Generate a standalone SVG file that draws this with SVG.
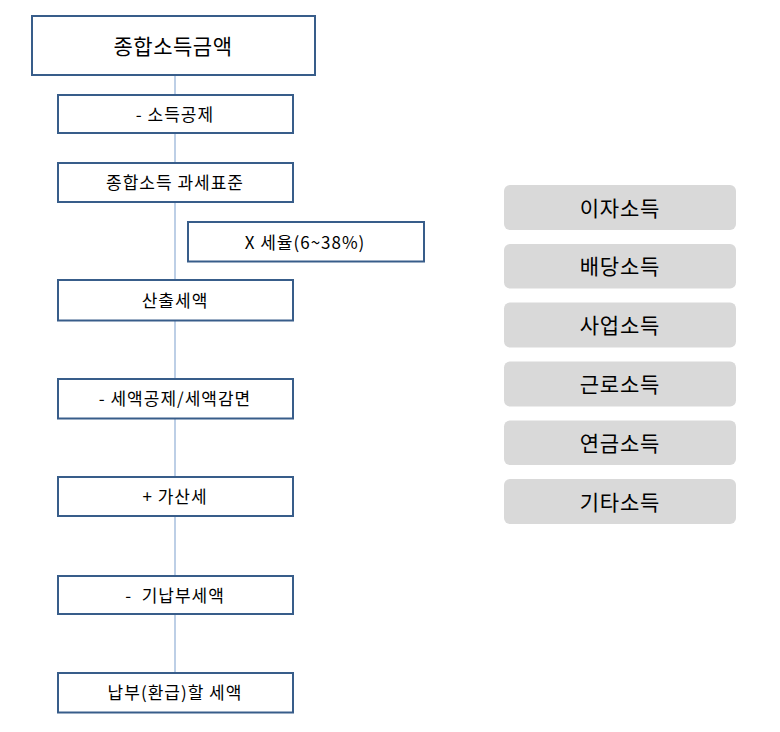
<svg xmlns="http://www.w3.org/2000/svg" width="780" height="732" viewBox="0 0 780 732">
<style>
.b{fill:#ffffff;stroke:#385d8a;stroke-width:2}
.g{fill:#d9d9d9;stroke:none}
.t{font-family:"Noto Sans CJK KR","Malgun Gothic",sans-serif;fill:#000;text-anchor:middle;dominant-baseline:central}
.s{font-size:17px;letter-spacing:1px}
.l{font-size:21px;letter-spacing:0.5px}
.m{font-size:21px;letter-spacing:0.8px}
.c{stroke:#a7bfde;stroke-width:1.5;fill:none}
</style>
<rect width="780" height="732" fill="#ffffff"/>
<g id="connectors">
<line class="c" x1="175" y1="75" x2="175" y2="673"/>
</g>
<g id="n1"><rect class="b" x="32" y="16" width="283" height="59"/><text class="t l" x="173" y="45">종합소득금액</text></g>
<g id="n2"><rect class="b" x="58" y="95" width="235" height="38"/><text class="t s" x="175" y="113">- 소득공제</text></g>
<g id="n3"><rect class="b" x="58" y="163" width="235" height="39"/><text class="t s" x="175" y="181.5">종합소득 과세표준</text></g>
<g id="n4"><rect class="b" x="188" y="222" width="236" height="39.5"/><text class="t s" x="305" y="241">X 세율(6~38%)</text></g>
<g id="n5"><rect class="b" x="58" y="280" width="235" height="40.5"/><text class="t s" x="175" y="299">산출세액</text></g>
<g id="n6"><rect class="b" x="58" y="379" width="235" height="39.5"/><text class="t s" x="175" y="397.5">- 세액공제/세액감면</text></g>
<g id="n7"><rect class="b" x="58" y="477" width="235" height="39"/><text class="t s" x="175" y="495.5">+ 가산세</text></g>
<g id="n8"><rect class="b" x="58" y="576" width="235" height="38"/><text class="t s" x="175" y="594" xml:space="preserve">-  기납부세액</text></g>
<g id="n9"><rect class="b" x="58" y="673" width="235" height="39.5"/><text class="t s" x="175" y="691.5">납부(환급)할 세액</text></g>
<g id="r1"><rect class="g" x="504" y="185" width="232" height="45" rx="6"/><text class="t m" x="620" y="206.5">이자소득</text></g>
<g id="r2"><rect class="g" x="504" y="244" width="232" height="44.5" rx="6"/><text class="t m" x="620" y="265">배당소득</text></g>
<g id="r3"><rect class="g" x="504" y="302.5" width="232" height="45" rx="6"/><text class="t m" x="620" y="324">사업소득</text></g>
<g id="r4"><rect class="g" x="504" y="361.5" width="232" height="45" rx="6"/><text class="t m" x="620" y="383">근로소득</text></g>
<g id="r5"><rect class="g" x="504" y="420.5" width="232" height="44.5" rx="6"/><text class="t m" x="620" y="442">연금소득</text></g>
<g id="r6"><rect class="g" x="504" y="479" width="232" height="45" rx="6"/><text class="t m" x="620" y="500.5">기타소득</text></g>
</svg>
